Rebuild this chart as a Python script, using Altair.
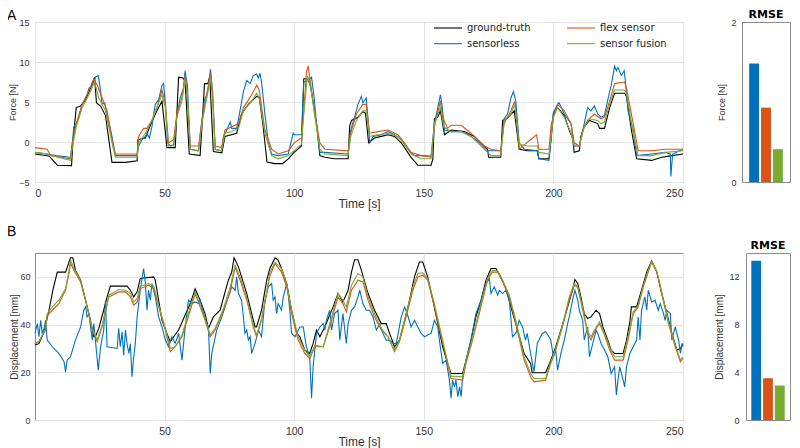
import altair as alt
import pandas as pd

# ---------------- Panel A : force [N] ----------------
gt_a_t = [0,5.4,8.6,14.1,14.6,15.9,17.6,19.5,21.4,23.0,23.7,25.3,27.2,29.7,34.9,39.4,39.7,42.6,44.5,46.4,49.0,50.9,54.1,55.4,57.1,57.9,59.5,63.7,64.6,65.4,66.7,67.4,68.8,72.1,73.3,77.8,79.7,82.3,85.5,86.5,88.0,89.5,92.5,95.5,97.7,100,102.8,103.7,105.4,106.4,107.3,108.6,109.9,111.8,115.6,120.8,121.4,122.1,124.6,126.5,127.5,128.7,131,133.6,136.2,138.7,141.3,143.8,145,147.7,152.8,153.5,154.1,155.4,156.4,158,160.5,165.6,169.5,172,174.6,175,179.7,180.4,182,184.9,186.8,190,193.8,194.4,198.3,199.2,200,201.6,204.2,206.1,207.4,208,210,210.6,211.9,213.9,217.1,217.8,219.7,221.7,223.6,227.5,228.2,230.1,232.1,237.9,241.8,245.7,250]
gt_a_v = [-1.5,-1.75,-2.9,-2.95,-0.1,4.3,4.5,5.3,6.7,8.1,4.9,4.5,3.3,-2.55,-2.55,-2.35,0.3,0.5,2.1,3.5,5.1,-0.7,-0.7,8.1,8.0,7.6,-1.5,-1.7,2.9,7.3,7.3,8.2,-1.2,-1.35,0.7,1.1,3.5,4.7,5.7,5.6,2.0,-2.5,-2.7,-2.7,-2.1,-1.3,-0.5,7.9,7.9,6.8,5.0,2.3,-1.7,-1.9,-2.1,-2.1,2.0,2.7,3.1,3.8,3.6,-0.1,0.5,0.7,0.9,0.7,-0.1,-1.3,-1.9,-2.9,-2.9,-2.1,2.9,3.1,3.9,0.9,1.5,1.3,0.7,-0.1,-0.9,-1.9,-1.9,2.7,2.9,3.9,-0.9,-1.1,-1.1,-2.1,-2.1,0.7,3.5,4.3,3.3,1.5,0.5,-1.3,-1.1,0.7,1.9,2.7,2.3,1.7,1.7,4.3,6.1,6.1,5.7,1.5,-2.1,-2.3,-1.9,-1.7,-1.5]

sl_a_t = [0,4.7,7.9,13.7,14.4,15,15.9,16.9,18.2,19.2,20.1,20.8,22.1,23.3,24.4,25,25.9,26.9,27.8,29.7,31,39.4,40,41.3,42.6,43.2,44.1,45.1,45.8,46.4,47.7,49,49.6,50.3,51.2,52.2,53.5,54.7,56,57.3,57.9,58.8,59.9,63.1,64.4,65.4,66.3,66.9,67.7,68.5,69.5,72,72.7,74,75.3,75.9,77.8,79.1,80.4,81.7,83,84.2,85.5,86.2,86.8,87.4,88.7,90,91.3,93.8,97.7,99,99.6,100,102.8,103.7,105.4,106.7,107.7,108.6,109.9,111.8,120.8,121.8,123.3,124.6,125.9,126.5,127.8,128.5,129.1,130.4,133.6,136.2,138.7,141.3,143.8,146.4,149,152.8,154.1,155.4,156.4,157,158,160.5,164.4,168.2,170.8,173.3,174.6,179.7,181,182.3,183.6,184.6,185.5,186.8,188.8,193.8,194.4,198.3,200,201.6,202.2,204.2,206.8,208,210,211.9,213.2,214.5,215.8,217.1,218.4,219.7,221,222.3,223.6,224.3,224.9,226.2,227.3,227.8,228.8,230.8,232.1,237.9,243.1,245.1,245.3,246,250]
sl_a_v = [-1.3,-1.5,-1.7,-1.9,-0.1,1.9,2.3,3.1,4.7,5.3,5.9,6.7,7.1,8.1,8.3,7.1,4.7,4.9,3.5,0.7,-1.7,-1.7,-0.5,0.3,0.7,1.1,0.5,1.9,3.5,4.7,5.3,7.1,7.3,4.7,-0.1,-0.5,-0.3,3.1,5.5,6.7,8.9,7.1,-0.9,-1.1,2.7,5.3,5.9,6.9,9.1,6.3,-0.9,-1.1,0.7,1.5,2.5,1.7,1.7,3.9,6.3,7.7,7.3,8.3,8.5,8.0,8.6,7.5,3.5,-0.1,-1.5,-1.7,-1.5,0.3,1.1,0.9,0.9,7.5,7.7,8.1,5.5,2.3,-1.3,-1.3,-1.5,1.5,3.1,4.7,5.7,4.9,5.5,2.7,-0.1,0.7,0.9,1.3,0.9,0.3,-0.9,-1.7,-1.7,-1.75,2.3,4.3,5.9,4.7,1.5,1.3,1.3,0.7,0.1,-0.7,-1.1,-1.1,2.9,3.5,5.5,6.3,5.1,-0.1,-0.9,-1.1,-2.1,-2.3,3.7,4.7,4.9,3.5,2.3,-0.5,-0.5,2.3,4.3,3.9,4.5,3.5,3.1,3.3,5.3,7.1,9.5,8.9,9.3,8.3,8.9,7.5,3.9,1.5,-1.7,-1.5,-1.3,-1.5,-4.3,-1.5,-0.9]

fx_a_t = [0,4.7,6,13.7,14.4,15.9,18.2,20.1,22.7,24,25.9,27.8,29.7,31,39.4,40,41.9,43.2,45.1,47,49,50.3,51.5,53.5,54.7,56.7,57.9,58.6,59.9,63.1,64.4,65.6,66.9,67.7,68.5,69.5,72,73.3,75.9,78.5,80.4,83.6,85.5,86.5,88.7,91.3,93.8,97.7,100,102.8,103.7,104.7,105.4,106.4,108,109.9,111.8,120.8,121.8,124,126.5,127.8,129.1,132.3,136.2,140,142.6,145.1,149,152.8,154.1,156.4,157.3,159.2,160.5,164.4,168.2,170.8,173.3,175.9,179.7,181,183.6,185.1,186.8,189,193.5,194.4,198.3,199.2,201.6,204.2,206.8,208,210,211.3,213.2,215.8,218.4,219.7,221.7,223.6,227.5,228.2,230.8,232.7,237.9,243.1,250]
fx_a_v = [-0.7,-0.9,-1.7,-2.1,-0.1,2.3,4.7,5.9,7.9,7.1,5.5,3.9,0.3,-1.5,-1.5,0.7,1.7,1.7,2.7,4.3,6.5,4.7,-0.1,0.3,3.5,5.5,8.3,6.7,-0.5,-0.5,2.7,4.7,7.1,8.7,6.3,-0.5,-0.7,1.5,1.9,2.3,4.3,5.9,7.1,6.5,1.5,-0.9,-1.5,-1.1,-0.1,0.5,3.9,8.7,9.5,7.1,3.5,-0.1,-0.9,-1.1,1.1,3.5,4.7,4.7,1.1,1.3,1.5,0.9,-0.1,-1.3,-1.7,-1.9,1.9,5.1,3.1,1.7,2.1,2.1,1.1,0.3,-0.5,-0.9,-1.1,2.3,3.9,5.1,-0.9,-0.3,0.9,-0.9,-0.9,2.3,4.7,3.9,2.3,-0.1,-0.5,1.5,2.7,3.5,2.9,3.1,5.1,7.3,7.5,6.7,2.3,-1.1,-1.1,-0.9,-0.9]

sf_a_t = [0,4.7,6,13.7,14.4,15.9,18.2,20.8,23,24.6,27.2,29.7,31,39.4,40,42.6,45.1,47,49,50.3,51.5,53.5,54.7,56.7,57.9,58.9,59.9,63.1,64.4,66.3,67.7,68.5,69.5,72,73.3,75.9,78.5,80.4,83.6,85.5,86.5,88.7,91.3,93.8,97.7,100,102.8,103.7,105.1,106.4,108,109.9,111.8,120.8,121.8,124,126.5,127.8,129.1,132.3,136.2,140,142.6,145.1,149,152.8,154.1,156.4,157.7,160.5,164.4,168.2,170.8,173.3,175.9,179.7,181,183.6,185.1,186.8,190,193.8,194.4,198.3,200,201.6,204.2,206.8,208,210,211.9,213.9,217.1,218.4,219.7,221.7,223.6,227.5,228.2,230.8,232.7,237.9,243.1,250]
sf_a_v = [-1.3,-1.5,-1.7,-2.3,-0.7,1.9,4.3,5.9,7.5,5.5,3.9,-0.1,-1.9,-1.9,-0.1,1.1,2.7,4.3,5.9,4.3,-0.5,-0.5,3.1,5.1,7.9,5.5,-0.9,-1.1,2.3,5.5,8.1,5.5,-0.9,-1.1,1.1,1.3,1.7,3.9,5.1,6.1,5.5,1.1,-1.7,-2.1,-1.7,-1.1,-0.3,3.5,8.3,6.7,3.1,-0.9,-1.5,-1.7,0.7,2.7,3.9,3.9,0.7,0.9,1.1,0.7,-0.3,-1.5,-2.1,-2.1,2.3,4.3,1.9,1.3,1.3,0.7,-0.1,-0.9,-1.7,-1.7,2.7,3.5,4.7,-0.3,-0.5,-0.5,-1.3,-1.5,3.1,4.3,3.1,1.1,-0.5,-0.5,1.9,2.9,2.7,2.3,2.5,4.7,6.5,6.5,6.1,1.1,-1.7,-1.7,-1.3,-1.1]

# ---------------- Panel B : displacement [mm] ----------------
gt_b_t = [0,1.5,3.5,5.4,7,8.6,11.8,13.7,14.6,15.6,17.6,19.5,21.4,22.7,23.3,24.6,26.5,27.8,29.1,35.5,36.8,38.1,39.4,40.6,45.8,46.4,47.7,49,50.9,52.2,53.5,55.4,59.9,61.8,63.7,65.6,66.9,68.8,71.4,74.6,75.9,76.8,78.5,81.7,83.6,84.9,85.5,87.4,89.4,90.6,92.6,93.8,95.1,97.1,99,101,102.2,104.1,106,107.3,108.6,109.9,111.8,115,116.9,118.8,120.8,122.1,123.3,124.6,125.9,128.5,131,133.6,135.5,136.8,138.7,140.6,142.6,144.5,146.4,148.3,149.6,151.5,153.5,155.4,157.3,159.2,160.5,165,166.3,168.2,170.1,172.1,174,175.9,177.8,179.7,181.7,183.6,186.2,188.7,191.2,191.8,197,199,200.9,202.9,205.5,207.4,208.3,209.4,210.6,211.9,213.2,214.5,216.5,217.8,219.1,221,222.3,223.6,226.9,228.2,229.5,230.1,232.1,234,236,237.9,239.9,241.8,243.8,245.7,247.7,249,250]
gt_b_v = [31.4,32,37,46,55,62,62,68,68,62.8,58.6,50.2,41.8,34.9,34.9,38.4,46,51.6,56.1,56.1,54.4,51.6,53.7,59.3,60,58.6,50.2,41.8,36.3,32.8,34.9,37.7,48.8,55,50.2,44.6,38.4,43.2,46,58.6,62,68,64.2,53,44.6,39,39,46,58.6,63.5,68,67,63.5,57.2,46,36.3,34.9,29.3,27.9,32.1,37.7,34.9,39,47.4,53,49.5,54.4,62,67.2,67.2,62.8,53,46,40.4,40.4,36.3,30.7,33.5,41.8,50.2,60,66.2,66.2,60,50.2,40.4,30.7,23.7,19.5,19.5,25.1,33.5,43.2,50.2,58.6,63.5,63.5,60,55.1,47.4,37.7,27.9,23.7,19.8,19.8,25.1,30.7,37.7,47.4,54.4,58.9,57.2,51.6,44.6,42.5,43.2,46,44.6,39,33.5,29.3,27.9,27.9,33.5,41.1,47.4,47.4,54.4,62,66.7,62,53,44.6,36.3,29.3,30,32]

sl_b_t = [0,0.9,1.5,2.2,2.8,3.5,4.1,4.7,6.7,9.2,11.2,11.8,12.4,13.7,15.6,17.6,18.8,19.5,20.1,20.8,22.1,22.7,23.3,24.4,25.3,26.5,27.2,27.8,31.7,32.3,32.9,33.6,34.2,34.9,35.5,36.2,36.8,37.4,38.1,38.7,39.4,40.6,41.9,42.6,43.2,43.8,44.5,45.1,46.4,47.7,49,50.3,51.5,52.8,54.1,55.4,56.7,57.9,59.2,60.5,61.8,63.1,63.7,65,66.3,66.9,67.6,68.2,70.1,72.1,74.6,75.9,77.2,77.8,78.5,79.7,80.4,81,81.7,82.3,83,83.6,84.9,86.2,87.4,88.7,90,91.3,91.9,92.6,93.2,93.8,95.1,95.8,97.1,97.7,98.3,99,100.3,102.2,103.5,104.7,106,106.7,107.3,108.6,109.9,111.2,111.8,112.4,113.7,114.4,115.6,116.9,117.6,118.8,120.1,120.8,122.1,123.3,124.6,125.3,126.5,127.8,129.1,130.4,131.7,133,134.2,135.5,136.8,138.1,139.4,141.3,142.6,143.8,145.1,146.4,147.7,149,150.3,151.5,152.8,154.1,155.4,156,157.3,158.6,159.9,160.5,161.1,161.8,162.4,163.1,163.8,164.4,165,166.3,168.2,170.1,172.1,174,175.3,175.9,177.2,178.5,179.1,180.4,181.7,183,184.2,185.5,186.8,188.1,189.2,189.9,191.2,192.5,193.8,195.7,197,198.3,199,200,200.9,201.6,202.9,204.2,205.5,206.1,207.4,208.3,209.4,210,211.3,211.9,213.2,213.9,215.2,216.5,217.1,218.4,219.7,221,222.3,223.6,224.3,224.9,225.6,226.9,227.5,228.2,229.5,230.8,232.1,232.7,233.4,234,235.3,236,236.6,237.9,239.2,240.5,241.2,242.5,243.1,243.8,245.1,245.7,247,248.3,249,249.6,250]
sl_b_v = [36.3,40.4,34.9,41.8,36.3,38.5,41.8,33.5,30.7,27.9,24.4,20.2,25.1,26.5,33.5,39,46,47.4,43.2,44.5,33.5,40.4,33.5,20.9,30.7,37.7,50.2,30.7,30,38.4,30.7,37,27.2,37.7,32.1,27.9,32,18.1,26.5,32.1,43.2,54.4,63.5,57.2,46,54.4,50.2,57.2,51.6,43.2,39,33.5,30.7,34.9,32.1,36.3,25.1,38.4,50.2,48.8,49.5,48.8,50.2,44.6,40.4,39,19.5,27.9,37.7,43.2,51.6,55.8,54.4,60,53,50.2,43.2,36.3,37.7,33.5,35,27.9,32.1,37.7,34.9,50.2,55.8,57.2,50.2,51.6,44.6,48.8,46,51.6,57.2,53,46,36.3,34.9,39,39,30.7,26.5,9.1,22.3,36.3,39,40.4,37.7,41.8,46,37.7,44.6,46,33.5,44.6,32.1,40.4,46,47.4,51.6,54.4,48.8,46,46,43.2,37.7,40.4,36.3,33.5,33.5,32.1,32.1,43.2,47.4,43.9,39,41.8,39,36.3,34.9,35.6,36.3,41.8,39,33.5,23.7,25.1,16.7,9.1,16.7,13.9,16.7,9.8,13.9,9.8,18.1,25.1,33.5,44.6,50.2,57.2,59.3,53,55.8,52.3,54.4,53,54.4,50.2,34.9,36.3,41.8,39,33.5,36.3,27.9,20.2,32.1,36.3,37,34.9,33.5,26.5,29.3,20.9,27.9,33.5,40.4,43.2,50.2,54.4,50.2,46,41.8,33.5,39,26.5,32.1,37.7,36.3,32.1,29.3,26.5,19.5,22.3,10.5,16.7,22.3,16.7,13.9,22.3,27.9,30.7,33.5,43.2,33.5,46,51.6,46,54.4,49.5,50.2,46,48.8,44.6,41.8,46,44.6,33.5,39,33.5,27.9,32.1,30.7]

fx_b_t = [0,1.5,4.1,4.7,6.7,9.2,11.8,13.1,13.7,15,17.6,19.5,22.1,24,25.9,28.5,32.3,34.9,36.8,38.1,39.4,40.6,43.8,45.8,47.7,50.3,52.2,54.1,56.7,59.9,61.8,63.7,65.6,67.6,69.5,72.7,75.3,77.2,79.1,81.7,84.2,85.5,87.4,89.4,90.5,92.6,95.1,97.1,99,101.5,104.1,106,108,111.2,113.7,116.9,118.8,120.1,122.1,124.6,126.5,128.5,131,133.6,136.2,138.7,140.6,143.2,145.8,147.7,149.6,151.5,154.1,156.7,158.6,160.5,165,166.3,168.8,171.4,174.6,176.5,178.5,180.4,183,185.5,188.7,191.2,192.5,197,199,200.9,203.5,206.1,208,209.4,211.3,213.2,214.5,216.5,217.8,219.7,221.7,223.6,226.9,228.8,230.8,232.7,234.7,236.6,237.9,239.9,241.8,244.4,247,249,250]
fx_b_v = [32,32.8,37.7,43.9,46,48.8,54.4,61.4,65.6,62.8,57.9,50.2,37.7,32.8,39,51.6,53.7,53.7,51.6,48.1,49.5,55.1,56.5,55.1,47.4,37.7,28.6,30.7,34.9,46,53,47.4,41.8,34.9,37.7,46,53.7,64.2,58.6,50.2,39,34.9,41.8,53,60,65.6,62,55.8,44.6,33.5,27.9,25.8,30.7,30.7,39,51.6,48.8,45.3,54.4,58.6,57.9,50.2,43.2,37.7,34.9,28.6,32.8,43.2,54.4,60,60.7,58.6,47.4,34.9,26.5,17.4,16.7,23.7,33.5,44.6,58.6,62,62,57.9,51.6,40.4,25.1,18.1,16,16.7,23.7,29.3,39,50.2,56.5,55.5,46,36.3,33.5,38.4,40.4,35.6,29.3,25.1,25.1,33.5,44.6,47.4,55.8,62,66.2,62,53,40.4,30.7,24.4,25.8]

sf_b_t = [0,1.5,4.1,4.7,6.7,9.2,11.8,13.1,13.7,15,17.6,19.5,22.1,24,25.9,28.5,32.3,34.9,36.8,38.1,39.4,40.6,43.8,45.8,47.7,50.3,52.2,54.1,56.7,59.9,61.8,63.7,65.6,67.6,69.5,72.7,75.3,77.2,79.1,81.7,84.2,85.5,87.4,89.4,90.5,92.6,95.1,97.1,99,101.5,104.1,106,108,111.2,113.7,116.9,118.8,120.1,122.1,124.6,126.5,128.5,131,133.6,136.2,138.7,140.6,143.2,145.8,147.7,149.6,151.5,154.1,156.7,158.6,160.5,165,166.3,168.8,171.4,174.6,176.5,178.5,180.4,183,185.5,188.7,191.2,192.5,197,199,200.9,203.5,206.1,208,209.4,211.3,213.2,214.5,216.5,217.8,219.7,221.7,223.6,226.9,228.8,230.8,232.7,234.7,236.6,237.9,239.9,241.8,244.4,247,249,250]
sf_b_v = [32,33,38.4,44.6,47.4,50.2,55.1,62.8,67,63.5,58.6,50.2,38.4,33.5,39.7,52.3,54.7,54.4,53,49.5,50.9,56.1,57.2,56.1,48.1,38.4,30,30.7,35.6,47.4,53.7,48.1,42.5,35.6,38.4,46.7,55.8,64.9,60,51,39.7,35.6,42.5,53.7,61.5,66.2,63.5,57.2,46,34.9,29.3,26.5,31.4,30.7,40.4,53,50.2,47.4,56.5,61.4,60,51.6,44.6,38.4,34.9,29.3,33.5,44.6,55.8,61.4,61.7,59.3,48.8,36.3,27.2,18.4,18.1,25.1,34.2,46,59.3,62.8,62.5,58.6,52.3,41.8,26.5,19.5,17.4,17.4,24.4,30,39.7,51.6,57.2,56,47.4,37,34.9,39,41.1,36.3,30.7,26.5,26.5,34.9,45.3,48.1,56.5,62.8,66.5,62.5,53.7,41.1,31.4,25.1,26.5]

# ---------------- RMSE bars ----------------
methods = ["sensorless", "flex sensor", "sensor fusion"]
rmse_force = [1.48, 0.93, 0.41]
rmse_disp = [13.35, 3.5, 2.9]

series_draw = ["ground-truth", "sensorless", "flex sensor", "sensor fusion"]
color_of = {"ground-truth": "#000000", "sensorless": "#0072BD",
            "flex sensor": "#D95319", "sensor fusion": "#77AC30"}


def long_df(parts):
    rows = []
    for name, ts, vs in parts:
        assert len(ts) == len(vs), (name, len(ts), len(vs))
        for i, (t, v) in enumerate(zip(ts, vs)):
            rows.append({"series": name, "t": t, "v": v, "i": i})
    return pd.DataFrame(rows)


df_a = long_df([("ground-truth", gt_a_t, gt_a_v), ("sensorless", sl_a_t, sl_a_v),
                ("flex sensor", fx_a_t, fx_a_v), ("sensor fusion", sf_a_t, sf_a_v)])
df_b = long_df([("ground-truth", gt_b_t, gt_b_v), ("sensorless", sl_b_t, sl_b_v),
                ("flex sensor", fx_b_t, fx_b_v), ("sensor fusion", sf_b_t, sf_b_v)])

AX_FONT = "Liberation Sans"
LAB_COL = "#333333"

color_scale = alt.Scale(domain=series_draw, range=[color_of[s] for s in series_draw])


def legend_layers():
    out = []
    for k, name in enumerate(series_draw):
        col, row = k // 2, k % 2
        x0 = 399 + col * 133
        y0 = 6 + row * 15.7
        d = pd.DataFrame({"s": [name]})
        out.append(alt.Chart(d).mark_rule(color=color_of[name], strokeWidth=1.1).encode(
            x=alt.value(x0), x2=alt.value(x0 + 28), y=alt.value(y0)))
        out.append(alt.Chart(d).mark_text(align="left", baseline="middle", font="DejaVu Sans",
                                          fontSize=10, color="#222222").encode(
            x=alt.value(x0 + 33), y=alt.value(y0), text="s:N"))
    return out


def line_panel(df, ydom, yvals, ytitle, xvals, height, letter, letter_y, with_legend,
               ytitle_size, ytitle_pad, ylab_pad):
    lines = alt.Chart(df).mark_line(strokeWidth=1.1).encode(
        x=alt.X("t:Q", scale=alt.Scale(domain=[0, 250], nice=False, zero=False),
                axis=alt.Axis(values=xvals, title="Time [s]", grid=True, ticks=False,
                              labelPadding=6, titlePadding=0, labelFontSize=10.5,
                              titleFontSize=12)),
        y=alt.Y("v:Q", scale=alt.Scale(domain=ydom, nice=False),
                axis=alt.Axis(values=yvals, title=ytitle, grid=True, ticks=False,
                              labelPadding=ylab_pad, titlePadding=ytitle_pad,
                              labelFontSize=9, titleFontSize=ytitle_size)),
        color=alt.Color("series:N", scale=color_scale, legend=None),
        order=alt.Order("i:Q"),
    )
    lab = alt.Chart(pd.DataFrame({"lab": [letter]})).mark_text(
        align="left", baseline="top", fontSize=14, font=AX_FONT, color="#000000"
    ).encode(x=alt.value(-28), y=alt.value(letter_y), text="lab:N")
    layers = [lines, lab] + (legend_layers() if with_legend else [])
    return alt.layer(*layers).properties(width=648, height=height)


line_a = line_panel(df_a, [-5, 15], [-5, 0, 5, 10, 15], "Force [N]",
                    [0, 50, 100, 150, 200, 250], 160, "A", -13, True, 9, 1, 6)
line_b = line_panel(df_b, [0, 70], [0, 20, 40, 60], "Displacement [mm]",
                    [50, 100, 150, 200, 250], 167, "B", -28, False, 10, 0, 5)


def bar_panel(vals, ydom, yvals, ytitle, width, height, ytitle_size, pad_outer, lab_pad):
    d = pd.DataFrame({"method": methods, "rmse": vals})
    bars = alt.Chart(d).mark_bar().encode(
        x=alt.X("method:N", sort=methods, axis=None,
                scale=alt.Scale(paddingInner=0.17, paddingOuter=pad_outer)),
        y=alt.Y("rmse:Q", scale=alt.Scale(domain=ydom, nice=False),
                axis=alt.Axis(values=yvals, format="d", title=ytitle, grid=False, ticks=False,
                              labelPadding=lab_pad, titlePadding=4, labelFontSize=9,
                              titleFontSize=ytitle_size)),
        color=alt.Color("method:N", scale=alt.Scale(domain=methods,
                        range=[color_of[m] for m in methods]), legend=None),
    )
    ttl = alt.Chart(pd.DataFrame({"lab": ["RMSE"]})).mark_text(
        align="center", baseline="alphabetic", font="DejaVu Sans", fontSize=11,
        fontWeight="bold", color="#000000"
    ).encode(x=alt.value(width / 2), y=alt.value(-4), text="lab:N")
    return alt.layer(bars, ttl).properties(width=width, height=height)


bar_a = bar_panel(rmse_force, [0, 2], [0, 1, 2], "Force [N]", 48, 160, 9, 0.6, 6)
bar_b = bar_panel(rmse_disp, [0, 14], [0, 4, 8, 12], "Displacement [mm]", 44, 167, 10, 0.45, 7)

row1 = alt.hconcat(line_a, bar_a, spacing=59, bounds="flush")
row2 = alt.hconcat(line_b, bar_b, spacing=63, bounds="flush")

chart = alt.vconcat(row1, row2, spacing=14).properties(
    padding={"left": -2, "top": 0, "right": 0, "bottom": 0}
).configure_view(
    stroke="#8a8a8a", strokeWidth=1
).configure_axis(
    labelFont=AX_FONT, titleFont=AX_FONT, labelColor=LAB_COL, titleColor=LAB_COL,
    titleFontWeight="normal", gridColor="#e4e4e4", gridWidth=1, domain=False
)

chart.save("out.html", embed_options={"renderer": "svg", "actions": False})
